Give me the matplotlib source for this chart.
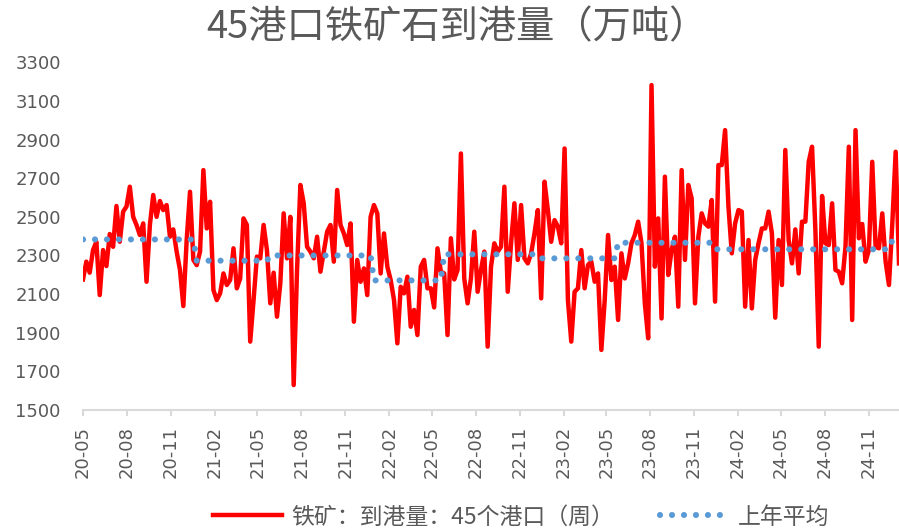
import numpy as np
import pandas as pd
import matplotlib
matplotlib.use("Agg")
import matplotlib.pyplot as plt
import matplotlib.dates as mdates

# weekly arrivals at 45 ports (10k t)
arrivals = [
    2176, 2268, 2211, 2328, 2371, 2095, 2328, 2245, 2411, 2345,
    2556, 2371, 2527, 2553, 2656, 2500, 2458, 2406, 2466, 2164,
    2458, 2613, 2500, 2582, 2535, 2561, 2397, 2435, 2320, 2225,
    2038, 2380, 2630, 2277, 2250, 2320, 2742, 2440, 2578, 2121,
    2069, 2104, 2207, 2147, 2173, 2337, 2130, 2181, 2492, 2458,
    1854, 2069, 2294, 2285, 2458, 2328, 2052, 2211, 1983, 2156,
    2518, 2285, 2500, 1629, 2225, 2665, 2570, 2345, 2320, 2285,
    2397, 2216, 2320, 2423, 2458, 2268, 2639, 2458, 2414, 2354,
    2466, 1957, 2277, 2164, 2233, 2095, 2500, 2561, 2518, 2207,
    2414, 2242, 2173, 2069, 1845, 2138, 2104, 2190, 1931, 2018,
    1888, 2242, 2277, 2130, 2130, 2031, 2337, 2216, 2207, 1888,
    2389, 2176, 2225, 2828, 2181, 2052, 2181, 2423, 2112, 2225,
    2320, 1828, 2242, 2363, 2320, 2345, 2656, 2112, 2363, 2570,
    2277, 2561, 2285, 2259, 2311, 2414, 2535, 2078, 2682, 2535,
    2371, 2483, 2449, 2363, 2854, 2069, 1854, 2112, 2130, 2328,
    2130, 2251, 2268, 2164, 2207, 1811, 2069, 2406, 2173, 2242,
    1966, 2311, 2181, 2259, 2363, 2406, 2475, 2363, 2052, 1871,
    3182, 2242, 2492, 1974, 2708, 2199, 2328, 2397, 2035, 2742,
    2277, 2665, 2596, 2052, 2397, 2518, 2466, 2449, 2587, 2061,
    2768, 2768, 2949, 2553, 2311, 2466, 2535, 2527, 2035, 2380,
    2026, 2277, 2363, 2440, 2440, 2527, 2414, 1978, 2380, 2147,
    2846, 2380, 2259, 2435, 2207, 2475, 2475, 2785, 2863, 2432,
    1828, 2608, 2363, 2354, 2570, 2225, 2216, 2156, 2345, 2863,
    1966, 2949, 2389, 2463, 2268, 2328, 2785, 2345, 2337, 2518,
    2268, 2147, 2466, 2837, 2259,
]

# previous-year average, level and number of weeks it holds
avg_levels = [2383, 2273, 2300, 2171, 2306, 2285, 2366, 2332, 2380]
avg_weeks = [34, 22, 31, 21, 29, 23, 29, 53, 3]

dates = pd.date_range("2020-05-01", periods=len(arrivals), freq="7D")
prev_avg = np.repeat(avg_levels, avg_weeks)

label_red = "铁矿：到港量：45个港口（周）"
label_blue = "上年平均"
title = "45港口铁矿石到港量（万吨）"

grey = "#595959"
cjk = ["Noto Sans CJK SC", "DejaVu Sans"]

fig = plt.figure(figsize=(8.99, 5.29), dpi=100)
ax = fig.add_axes([83 / 899, 119 / 529, 816 / 899, 347.7 / 529])

ax.plot(dates, arrivals, color="#FF0000", lw=3.2, label=label_red, zorder=2)
ax.plot(dates, prev_avg, color="#5B9BD5", lw=4.4, linestyle=(0, (0.01, 1.95)),
        dash_capstyle="round", label=label_blue, zorder=3)

ax.set_ylim(1500, 3300)
ax.set_yticks(np.arange(1500, 3301, 200))
ax.set_xlim(pd.Timestamp("2020-05-01"), dates[-1])

ticks = pd.date_range("2020-05-01", "2024-11-01", freq="3MS")
ax.set_xticks(ticks)
ax.xaxis.set_major_formatter(mdates.DateFormatter("%y-%m"))

for s in ["top", "right", "left"]:
    ax.spines[s].set_visible(False)
ax.spines["bottom"].set_color("#D9D9D9")
ax.spines["bottom"].set_linewidth(1.5)

ax.tick_params(axis="x", colors="#D9D9D9", width=1.5, length=4.5, pad=7,
               labelcolor=grey, labelsize=13, labelrotation=90)
ax.tick_params(axis="y", length=0, pad=16, labelcolor=grey, labelsize=13)

fig.text(0.508, 0.947, title, ha="center", va="center", fontsize=27.5,
         color=grey, family=cjk)

leg = fig.legend(loc="center", bbox_to_anchor=(521 / 899, 12 / 529), ncol=2,
                 frameon=False, handlelength=3.0, handletextpad=0.4,
                 columnspacing=2.0, prop={"family": cjk, "size": 16.5})
for t in leg.get_texts():
    t.set_color(grey)

fig.savefig("out.png", dpi=100)
